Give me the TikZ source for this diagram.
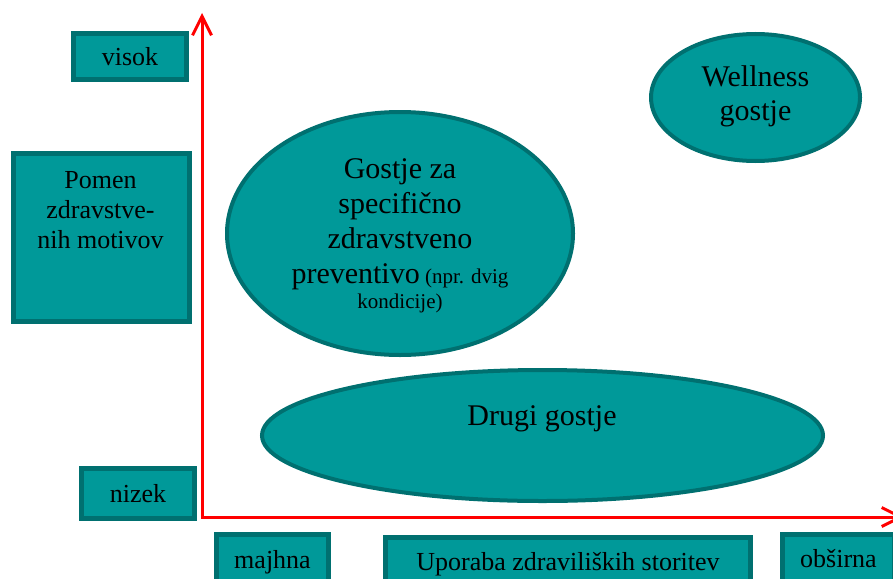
\documentclass[tikz,border=0pt]{standalone}
\usepackage{fontspec}
\setmainfont{Liberation Serif}
\usetikzlibrary{arrows.meta,shapes.geometric}
\definecolor{tealfill}{HTML}{009999}
\definecolor{tealedge}{HTML}{007070}
\begin{document}
\begin{tikzpicture}[x=1pt,y=-1pt,
  box/.style={draw=tealedge, line width=5pt, fill=tealfill, rectangle, inner sep=0pt,
              font=\fontsize{26}{30}\selectfont},
  blob/.style={draw=tealedge, line width=4pt, fill=tealfill, ellipse, inner sep=0pt},
  lbl/.style={inner sep=0pt, align=center, anchor=base},
  big/.style={font=\fontsize{30}{35}\selectfont},
  axis/.style={draw=red, line width=3pt, line join=miter,
               {Straight Barb[length=19pt,width=19pt]}-{Straight Barb[length=19pt,width=19pt]}}
]
\useasboundingbox (0,0) rectangle (893,578);
\clip (0,0) rectangle (893,578);

% axes
\coordinate (ytip) at (202,13);
\coordinate (origin) at (202,517);
\coordinate (xtip) at (904,517);
\draw[axis] (ytip) -- (origin) -- (xtip);

% vertical-axis labels (multi-line labels are placed by the baseline of their last line)
\node[box, minimum width=113pt, minimum height=46pt, text height=19pt, text depth=2pt] (visok) at (130,56.5) {visok};
\node[box, minimum width=176pt, minimum height=168pt] (pomen) at (101.5,237.5) {};
\node[lbl, font=\fontsize{26}{30}\selectfont] (pomenlbl) at (100.5,248) {Pomen\\zdravstve-\\nih motivov};
\node[box, minimum width=113pt, minimum height=50pt, text height=19pt, text depth=2pt] (nizek) at (138,493.5) {nizek};

% horizontal-axis labels
\node[box, minimum width=112pt, minimum height=65pt, text height=19pt, text depth=17pt] (majhna) at (272.5,567) {majhna};
\node[box, minimum width=365pt, minimum height=65pt, text height=18pt, text depth=18pt] (uporaba) at (568,570) {Uporaba zdraviliških storitev};
\node[box, minimum width=112pt, minimum height=65pt, text height=18pt, text depth=18pt] (obsirna) at (838.5,567) {obširna};

% guest groups
\node[blob, minimum width=209pt, minimum height=127pt] (wellness) at (755.5,97.5) {};
\node[lbl, font=\fontsize{30}{34}\selectfont] (wellnesslbl) at (755.5,120) {Wellness\\gostje};

\node[blob, minimum width=346pt, minimum height=243pt] (specific) at (400,233.5) {};
\node[lbl, big] (specificlbl) at (400,308) {Gostje za\\specifično\\zdravstveno\\preventivo{\fontsize{21}{25}\selectfont{} (npr. dvig}\\[-10pt]{\fontsize{21}{25}\selectfont kondicije)}};

\node[blob, minimum width=561pt, minimum height=131pt] (drugi) at (542.5,435.5) {};
\node[lbl, big] (drugilbl) at (542,425) {Drugi gostje};
\end{tikzpicture}
\end{document}
